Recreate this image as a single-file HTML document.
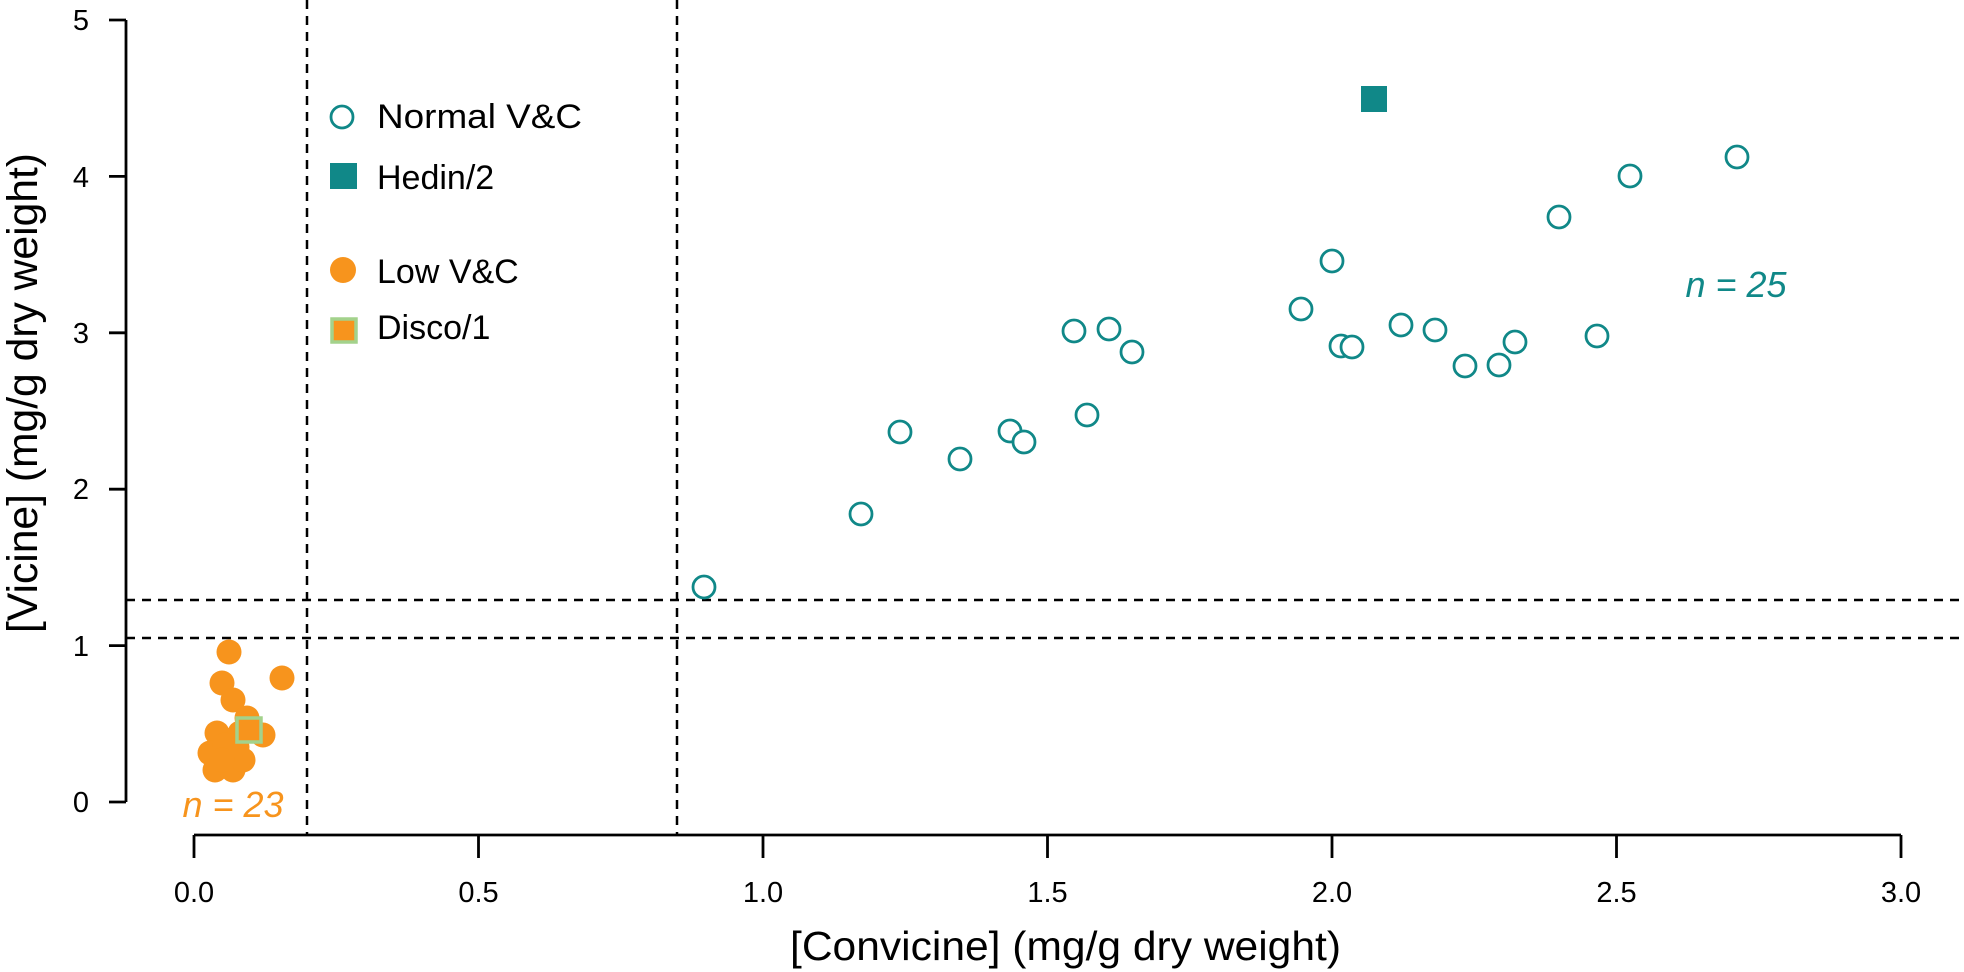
<!DOCTYPE html>
<html><head><meta charset="utf-8"><style>
html,body{margin:0;padding:0;background:#fff;}
svg{display:block;font-family:"Liberation Sans",Arial,sans-serif;}
</style></head><body>
<svg width="1964" height="972" viewBox="0 0 1964 972" xmlns="http://www.w3.org/2000/svg">
<g stroke="#000" stroke-width="2.5" stroke-dasharray="9,7" fill="none">
<line x1="307" y1="0" x2="307" y2="835"/>
<line x1="677" y1="0" x2="677" y2="835"/>
<line x1="126" y1="600" x2="1964" y2="600"/>
<line x1="126" y1="638" x2="1964" y2="638"/>
</g>
<g stroke="#000" stroke-width="2.8" fill="none">
<line x1="126" y1="20" x2="126" y2="802"/>
<line x1="109" y1="20" x2="126" y2="20"/>
<line x1="109" y1="176.4" x2="126" y2="176.4"/>
<line x1="109" y1="332.8" x2="126" y2="332.8"/>
<line x1="109" y1="489.2" x2="126" y2="489.2"/>
<line x1="109" y1="645.6" x2="126" y2="645.6"/>
<line x1="109" y1="802" x2="126" y2="802"/>
<line x1="194" y1="835" x2="1901" y2="835"/>
<line x1="194" y1="835" x2="194" y2="858"/>
<line x1="478.5" y1="835" x2="478.5" y2="858"/>
<line x1="763" y1="835" x2="763" y2="858"/>
<line x1="1047.5" y1="835" x2="1047.5" y2="858"/>
<line x1="1332" y1="835" x2="1332" y2="858"/>
<line x1="1616.5" y1="835" x2="1616.5" y2="858"/>
<line x1="1901" y1="835" x2="1901" y2="858"/>
</g>
<g font-size="29" text-anchor="middle" fill="#000">
<text x="81" y="30">5</text><text x="81" y="187">4</text><text x="81" y="343">3</text>
<text x="81" y="499">2</text><text x="81" y="656">1</text><text x="81" y="812">0</text>
<text x="194" y="902">0.0</text><text x="478.5" y="902">0.5</text><text x="763" y="902">1.0</text>
<text x="1047.5" y="902">1.5</text><text x="1332" y="902">2.0</text><text x="1616.5" y="902">2.5</text><text x="1901" y="902">3.0</text>
</g>
<text x="790" y="960" font-size="41" textLength="551" lengthAdjust="spacingAndGlyphs">[Convicine] (mg/g dry weight)</text>
<text transform="translate(37,633) rotate(-90)" font-size="43" textLength="480" lengthAdjust="spacingAndGlyphs">[Vicine] (mg/g dry weight)</text>
<g fill="#fff" stroke="#108888" stroke-width="2.8">
<circle cx="704" cy="587" r="11"/><circle cx="861" cy="514" r="11"/><circle cx="900" cy="432" r="11"/>
<circle cx="960" cy="459" r="11"/><circle cx="1010" cy="431" r="11"/><circle cx="1024" cy="442" r="11"/>
<circle cx="1074" cy="331" r="11"/><circle cx="1087" cy="415" r="11"/><circle cx="1109" cy="329" r="11"/>
<circle cx="1132" cy="352" r="11"/><circle cx="1332" cy="261" r="11"/><circle cx="1301" cy="309" r="11"/>
<circle cx="1341" cy="346" r="11"/><circle cx="1352" cy="347" r="11"/><circle cx="1401" cy="325" r="11"/>
<circle cx="1435" cy="330" r="11"/><circle cx="1465" cy="366" r="11"/><circle cx="1499" cy="365" r="11"/>
<circle cx="1515" cy="342" r="11"/><circle cx="1597" cy="336" r="11"/><circle cx="1559" cy="217" r="11"/>
<circle cx="1630" cy="176" r="11"/><circle cx="1737" cy="157" r="11"/>
</g>
<rect x="1361" y="86" width="26" height="26" fill="#108888"/>
<g fill="#f7941d">
<circle cx="229" cy="652" r="12.5"/><circle cx="222" cy="683" r="12.5"/><circle cx="282" cy="678" r="12.5"/>
<circle cx="233" cy="700" r="12.5"/><circle cx="247" cy="718" r="12.5"/><circle cx="217" cy="733" r="12.5"/>
<circle cx="263" cy="735" r="12.5"/><circle cx="210" cy="753" r="12.5"/><circle cx="237" cy="747" r="12.5"/>
<circle cx="215" cy="770" r="12.5"/><circle cx="233" cy="770" r="12.5"/><circle cx="243" cy="760" r="12.5"/>
<circle cx="240" cy="733" r="12.5"/><circle cx="225" cy="745" r="12.5"/><circle cx="222" cy="760" r="12.5"/>
</g>
<rect x="237" y="718" width="24" height="24" fill="#f7941d" stroke="#a3d28c" stroke-width="3.5"/>
<text x="233" y="817" font-size="36" font-style="italic" fill="#f7941d" text-anchor="middle">n = 23</text>
<text x="1736" y="297" font-size="36" font-style="italic" fill="#108888" text-anchor="middle">n = 25</text>
<circle cx="342" cy="117" r="11" fill="#fff" stroke="#108888" stroke-width="2.8"/>
<rect x="330" y="163" width="27" height="26" fill="#108888"/>
<circle cx="343" cy="270" r="13" fill="#f7941d"/>
<rect x="332" y="319" width="24" height="23" fill="#f7941d" stroke="#a3d28c" stroke-width="3.5"/>
<g font-size="34" fill="#000">
<text x="377" y="128" textLength="205" lengthAdjust="spacingAndGlyphs">Normal V&amp;C</text>
<text x="377" y="189">Hedin/2</text>
<text x="377" y="283">Low V&amp;C</text>
<text x="377" y="339">Disco/1</text>
</g>
</svg>
</body></html>
